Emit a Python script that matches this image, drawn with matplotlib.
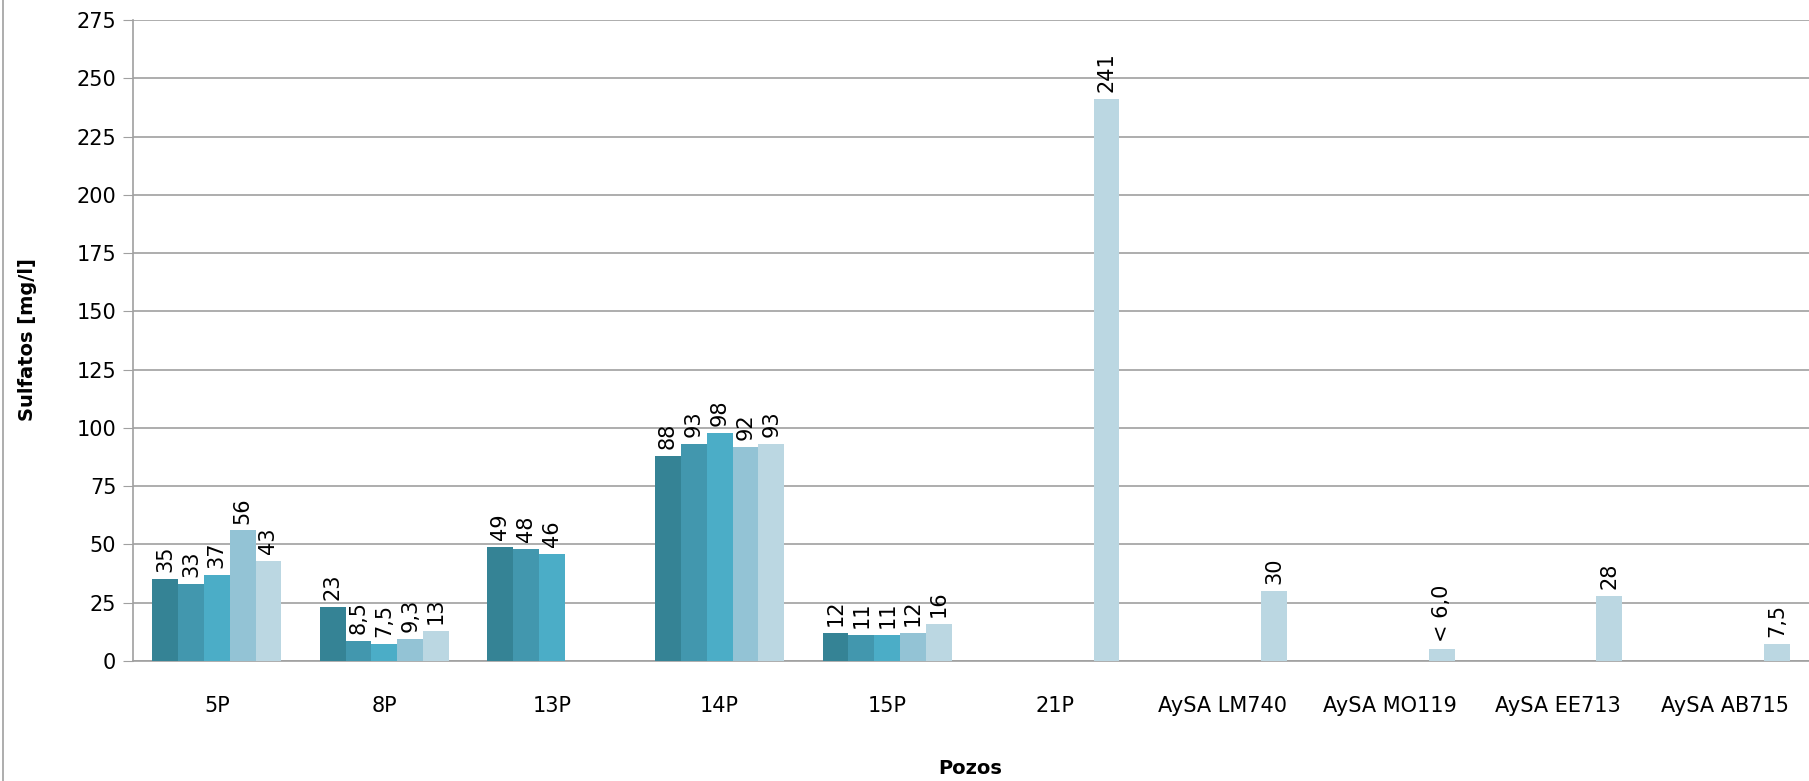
import numpy as np
import matplotlib
matplotlib.use("Agg")
import matplotlib.pyplot as plt
from matplotlib.lines import Line2D

categories = ["5P", "8P", "13P", "14P", "15P", "21P",
              "AySA LM740", "AySA MO119", "AySA EE713", "AySA AB715"]

nan = np.nan
s1 = [35, 23, 49, 88, 12, nan, nan, nan, nan, nan]
s2 = [33, 8.5, 48, 93, 11, nan, nan, nan, nan, nan]
s3 = [37, 7.5, 46, 98, 11, nan, nan, nan, nan, nan]
s4 = [56, 9.3, nan, 92, 12, nan, nan, nan, nan, nan]
s5 = [43, 13, nan, 93, 16, 241, 30, 5, 28, 7.5]

l1 = ["35", "23", "49", "88", "12", "", "", "", "", ""]
l2 = ["33", "8,5", "48", "93", "11", "", "", "", "", ""]
l3 = ["37", "7,5", "46", "98", "11", "", "", "", "", ""]
l4 = ["56", "9,3", "", "92", "12", "", "", "", "", ""]
l5 = ["43", "13", "", "93", "16", "241", "30", "< 6,0", "28", "7,5"]

series = [s1, s2, s3, s4, s5]
labels = [l1, l2, l3, l4, l5]
colors = ["#358395", "#4297ae", "#4badc7", "#93c3d5", "#bbd7e2"]

plt.rcParams["font.family"] = ["DejaVu Sans"]
fs = 15

fig = plt.figure(figsize=(18.09, 7.81), dpi=100)
ax = fig.add_axes([133 / 1809, 1 - 661 / 781, 1 - 133 / 1809, (661 - 20) / 781])

x = np.arange(len(categories))
w = 0.154
for i, (vals, labs, c) in enumerate(zip(series, labels, colors)):
    pos = x + (i - 2) * w
    bars = ax.bar(pos, vals, width=w, color=c, zorder=3)
    for b, v, t in zip(bars, vals, labs):
        if t and not np.isnan(v):
            ax.annotate(t, (b.get_x() + b.get_width() / 2, v),
                        xytext=(0, 5), textcoords="offset points",
                        rotation=90, ha="center", va="bottom", fontsize=fs)

ax.set_xlim(-0.5, len(categories) - 0.5)
ax.set_ylim(0, 275)
ax.set_yticks(np.arange(0, 276, 25))
ax.yaxis.grid(True, color="#a0a0a0", linewidth=1.2, zorder=0)
ax.set_xticks(x)
ax.set_xticklabels(categories)
ax.tick_params(axis="x", length=0, pad=25, labelsize=fs)
ax.tick_params(axis="y", length=7, color="#a0a0a0", labelsize=fs, pad=5)

for side in ["top", "right"]:
    ax.spines[side].set_visible(False)
for side in ["left", "bottom"]:
    ax.spines[side].set_color("#a0a0a0")
    ax.spines[side].set_linewidth(1.2)

fig.text(28 / 1809, 1 - 340 / 781, "Sulfatos [mg/l]", rotation=90,
         ha="center", va="center", fontsize=14, fontweight="bold")
fig.text(970 / 1809, 1 - 768 / 781, "Pozos",
         ha="center", va="center", fontsize=14, fontweight="bold")

# chart area border on the left
fig.add_artist(Line2D([3 / 1809, 3 / 1809], [0, 1], color="#a0a0a0", linewidth=1.2))

fig.savefig("out.png", dpi=100)
